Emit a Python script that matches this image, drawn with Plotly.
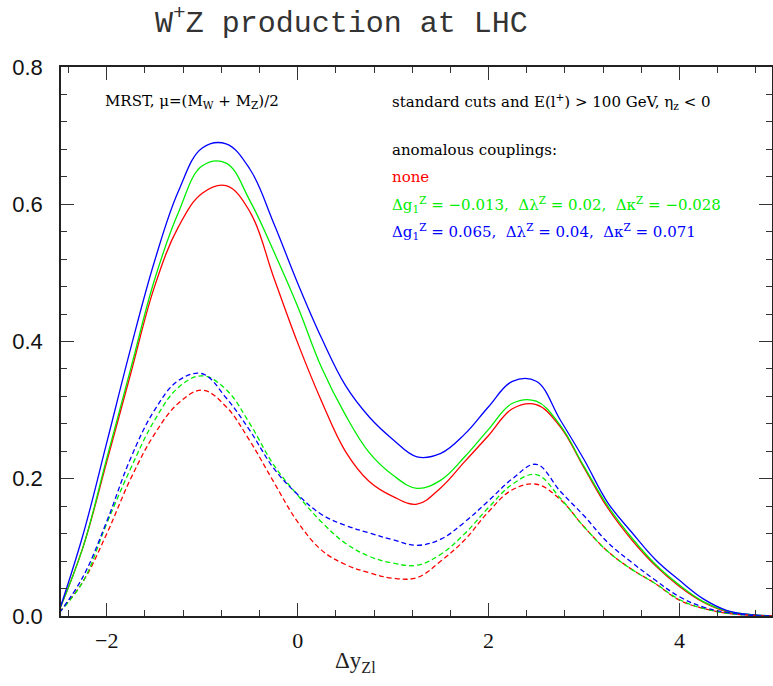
import plotly.graph_objects as go

# rapidity difference grid
dy = [-2.5, -2.25, -2.0, -1.75, -1.5, -1.25, -1.0, -0.75, -0.5, -0.25, 0.0,
      0.25, 0.5, 0.75, 1.0, 1.25, 1.5, 1.75, 2.0, 2.25, 2.5, 2.75, 3.0,
      3.25, 3.5, 3.75, 4.0, 4.25, 4.5, 4.75, 5.0]

# solid curves
none_solid = [0.008, 0.10, 0.225, 0.353, 0.48, 0.567, 0.616, 0.627, 0.589, 0.493, 0.398,
              0.313, 0.240, 0.196, 0.174, 0.163, 0.187, 0.225, 0.263, 0.302, 0.308, 0.276, 0.216,
              0.157, 0.111, 0.073, 0.043, 0.02, 0.006, 0.0015, 0.0]
green_solid = [0.008, 0.10, 0.23, 0.36, 0.49, 0.588, 0.656, 0.66, 0.605, 0.531, 0.451,
               0.362, 0.293, 0.238, 0.205, 0.186, 0.198, 0.232, 0.272, 0.31, 0.313, 0.278, 0.218,
               0.16, 0.114, 0.075, 0.045, 0.021, 0.007, 0.002, 0.0]
blue_solid = [0.007, 0.118, 0.253, 0.39, 0.517, 0.619, 0.682, 0.688, 0.651, 0.572, 0.485,
              0.405, 0.336, 0.29, 0.257, 0.232, 0.237, 0.265, 0.305, 0.342, 0.342, 0.286, 0.228,
              0.165, 0.122, 0.082, 0.052, 0.025, 0.008, 0.002, 0.0]

# dashed curves
none_dash = [0.005, 0.05, 0.12, 0.20, 0.265, 0.31, 0.329, 0.305, 0.255, 0.195, 0.137,
             0.096, 0.075, 0.063, 0.055, 0.056, 0.08, 0.111, 0.152, 0.184, 0.192, 0.17, 0.13,
             0.094, 0.068, 0.047, 0.023, 0.011, 0.004, 0.001, 0.0]
green_dash = [0.005, 0.05, 0.135, 0.215, 0.285, 0.333, 0.350, 0.33, 0.28, 0.22, 0.176,
              0.137, 0.106, 0.087, 0.077, 0.074, 0.09, 0.12, 0.158, 0.192, 0.206, 0.172, 0.13,
              0.094, 0.068, 0.047, 0.024, 0.011, 0.004, 0.001, 0.0]
blue_dash = [0.004, 0.057, 0.138, 0.23, 0.30, 0.343, 0.353, 0.318, 0.27, 0.215, 0.177,
             0.148, 0.132, 0.121, 0.111, 0.103, 0.112, 0.137, 0.168, 0.200, 0.221, 0.182, 0.146,
             0.107, 0.078, 0.052, 0.028, 0.013, 0.005, 0.001, 0.0]

RED, GREEN, BLUE = "#ff0000", "#00ee00", "#0000ff"

fig = go.Figure()
for ys, col in [(none_solid, RED), (green_solid, GREEN), (blue_solid, BLUE)]:
    fig.add_trace(go.Scatter(x=dy, y=ys, mode="lines",
                             line=dict(color=col, width=1.3, shape="spline", smoothing=1.1),
                             showlegend=False, hoverinfo="skip"))
for ys, col in [(none_dash, RED), (green_dash, GREEN), (blue_dash, BLUE)]:
    fig.add_trace(go.Scatter(x=dy, y=ys, mode="lines",
                             line=dict(color=col, width=1.3, shape="spline", smoothing=1.1, dash="5px,3px"),
                             showlegend=False, hoverinfo="skip"))

axis_common = dict(
    showgrid=False, zeroline=False, showline=True, linecolor="#222", linewidth=1.5,
    mirror="ticks", ticks="inside", ticklen=13, tickwidth=1.2, tickcolor="#333",
    automargin=False,
)
fig.update_xaxes(
    range=[-2.48, 4.97], tickvals=[-2, 0, 2, 4], ticktext=["\u22122", "0", "2", "4"],
    tickfont=dict(family="Liberation Serif", size=22, color="#111"),
    minor=dict(dtick=0.4, tick0=0, ticks="inside", ticklen=6, tickcolor="#333", tickwidth=1),
    ticklabelstandoff=4,
    **axis_common,
)
fig.update_yaxes(
    range=[0, 0.8], tickvals=[0, 0.2, 0.4, 0.6, 0.8], ticktext=["0.0", "0.2", "0.4", "0.6", "0.8"],
    tickfont=dict(family="Liberation Sans", size=22, color="#111"),
    minor=dict(dtick=0.04, tick0=0, ticks="inside", ticklen=6, tickcolor="#333", tickwidth=1),
    ticklabelstandoff=12,
    **axis_common,
)

txt = dict(family="DejaVu Serif", size=15, color="black")
notes = [
    (0.059, 0.937, "MRST, \u03bc=(M<sub>W</sub> + M<sub>Z</sub>)/2", "black"),
    (0.463, 0.937, "standard cuts and E(l<sup>+</sup>) > 100 GeV, \u03b7<sub>z</sub> < 0", "black"),
    (0.463, 0.849, "anomalous couplings:", "black"),
    (0.463, 0.800, "none", RED),
    (0.463, 0.750, "\u0394g<sub>1</sub><sup>Z</sup> = \u22120.013,  \u0394\u03bb<sup>Z</sup> = 0.02,  \u0394\u03ba<sup>Z</sup> = \u22120.028", GREEN),
    (0.463, 0.700, "\u0394g<sub>1</sub><sup>Z</sup> = 0.065,  \u0394\u03bb<sup>Z</sup> = 0.04,  \u0394\u03ba<sup>Z</sup> = 0.071", BLUE),
]
for x, y, t, c in notes:
    fig.add_annotation(x=x, y=y, xref="paper", yref="paper", text=t, showarrow=False,
                       xanchor="left", yanchor="middle", font=dict(txt, color=c))

# title, centred over the left part of the frame
fig.add_annotation(x=(341 - 61) / 711, y=1 + (67 - 22) / 549, xref="paper", yref="paper",
                   text="W<sup>+</sup>Z production at LHC", showarrow=False,
                   xanchor="center", yanchor="middle",
                   font=dict(family="Liberation Mono", size=30, color="#333"))

fig.add_annotation(x=(355 - 61) / 711, y=-(662 - 616) / 549, xref="paper", yref="paper",
                   text="\u0394y<sub>Zl</sub>", showarrow=False, xanchor="center", yanchor="middle",
                   font=dict(family="Liberation Serif", size=23, color="#222"))

fig.update_layout(
    width=773, height=686, margin=dict(l=61, r=1, t=67, b=70),
    paper_bgcolor="white", plot_bgcolor="white",
)

# drop the default page margin so the figure sits at the window origin
fig.write_html("out.html", config={"displayModeBar": False},
               post_script="document.body.style.margin = '0';")
